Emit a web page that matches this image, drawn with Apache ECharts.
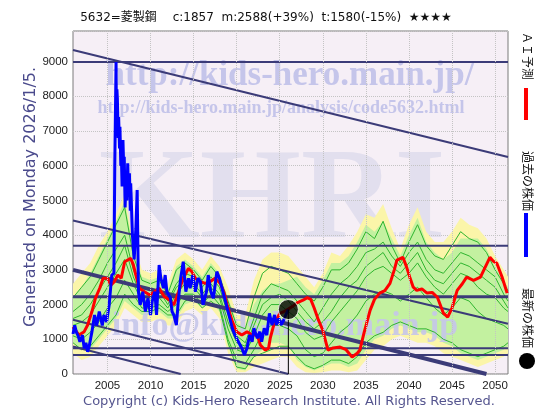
<!DOCTYPE html>
<html><head><meta charset="utf-8">
<script src="https://cdn.jsdelivr.net/npm/echarts@6/dist/echarts.min.js"></script>
<style>html,body{margin:0;padding:0;background:#fff}#c{width:560px;height:420px}</style>
</head><body><div id="c"></div>
<script>
// ---------- DATA ----------
const titleText = '5632=菱製鋼　 c:1857  m:2588(+39%)  t:1580(-15%)  ★★★★';
const yAxisNameText = 'Generated on Monday 2026/1/5.';
const copyrightText = 'Copyright (c) Kids-Hero Research Institute. All Rights Reserved.';
const legendTexts = ['ＡＩ予測', '過去の株価', '最新の株価'];
const xTickYears = [2005, 2010, 2015, 2020, 2025, 2030, 2035, 2040, 2045, 2050];

// past price (blue)
const blueYears = [2001.0,2001.2,2001.4,2001.6,2001.8,2002.1,2002.3,2002.5,2002.7,2002.9,2003.2,2003.5,2003.75,2004.05,2004.4,2004.6,2004.9,2005.2,2005.5,2005.75,2005.85,2006.0,2006.05,2006.1,2006.15,2006.25,2006.3,2006.4,2006.45,2006.55,2006.6,2006.7,2006.8,2006.9,2006.95,2007.05,2007.15,2007.25,2007.35,2007.45,2007.55,2007.65,2007.7,2007.9,2008.1,2008.3,2008.45,2008.6,2008.8,2009.1,2009.4,2009.7,2010.0,2010.2,2010.5,2010.7,2011.0,2011.2,2011.5,2011.7,2011.9,2012.3,2012.5,2012.7,2013.0,2013.25,2013.5,2013.8,2014.1,2014.4,2014.6,2014.9,2015.2,2015.5,2015.8,2016.1,2016.5,2016.7,2017.0,2017.3,2017.7,2018.0,2018.3,2018.7,2019.1,2019.5,2019.8,2020.2,2020.6,2020.9,2021.2,2021.5,2021.8,2022.0,2022.4,2022.7,2022.9,2023.2,2023.5,2023.8,2024.1,2024.4,2024.6,2024.9,2025.15,2025.45,2025.7,2026.0];
const blueValues = [1150,1400,1200,1100,930,1120,740,900,640,830,1220,1700,1400,1800,1400,1700,1500,1990,2850,2900,6000,8990,7000,8200,7940,6800,7400,6500,7120,6000,6450,5400,6740,5800,6260,4800,5590,5000,6070,5200,5780,4700,5490,4000,3300,4200,5300,2370,1990,2370,1800,2180,1700,2100,2370,1700,3140,2760,2470,2850,2370,2200,1800,1700,1411,2180,2760,3235,2370,2760,2470,2850,2370,2760,2660,1990,2370,2850,2370,2180,2950,2760,2470,2090,1700,1315,1120,930,740,550,740,1120,930,1315,1030,1220,930,1315,1120,1745,1411,1700,1411,1600,1411,1550,1700,1857];

// AI forecast (red)
const redYears = [2001.0,2001.7,2002.3,2002.7,2003.2,2003.6,2004.1,2004.5,2005.0,2005.4,2005.8,2006.2,2006.6,2007.0,2007.7,2008.0,2008.3,2008.7,2009.3,2009.9,2010.5,2011.0,2011.6,2012.2,2012.7,2013.25,2013.8,2014.4,2014.8,2015.2,2015.8,2016.35,2016.9,2017.5,2018.1,2018.5,2018.9,2019.5,2020.0,2020.6,2021.2,2021.8,2022.4,2022.75,2023.3,2023.7,2023.9,2024.3,2024.7,2025.0,2025.5,2026.0,2026.5,2027.0,2027.7,2028.2,2028.6,2029.0,2029.5,2030.0,2030.6,2031.2,2032.0,2032.7,2033.4,2034.0,2034.3,2034.8,2035.5,2036.0,2036.6,2037.2,2037.8,2038.3,2038.6,2039.3,2039.7,2040.1,2040.5,2040.9,2041.5,2042.1,2042.7,2043.3,2043.7,2044.0,2044.5,2045.0,2045.6,2046.2,2046.7,2047.5,2048.3,2048.9,2049.4,2049.8,2050.2,2050.8,2051.4];
const redValues = [1360,1120,1220,1410,1800,2180,2470,2760,2760,2560,2660,2850,2760,3235,3330,3150,2850,2470,2370,2275,2370,2470,2230,2130,1990,2370,2760,3040,2950,2760,2660,2610,2660,2760,2610,2370,1990,1510,1220,1120,1220,1120,1120,835,690,740,1030,1410,1600,1745,1800,1870,1950,2050,2126,2200,2150,1900,1550,1260,690,750,776,700,490,600,690,1200,1840,2150,2330,2400,2610,3000,3280,3360,3100,2790,2500,2410,2450,2330,2350,2210,1950,1750,1640,1900,2410,2600,2790,2700,2790,3100,3360,3250,3190,2800,2330];

// latest price
const latestYear = 2026.0;
const latestValue = 1857;

// scenario envelope / bands
const bandYears = [2001,2002,2003,2004,2005,2006,2007,2008,2009,2010,2011,2012,2013,2014,2015,2016,2017,2018,2019,2020,2021,2022,2023,2024,2025,2026,2027,2028,2029,2030,2031,2032,2033,2034,2035,2036,2037,2038,2039,2040,2041,2042,2043,2044,2045,2046,2047,2048,2049,2050,2051,2051.5];
const yellowUpper = [2600,2900,3200,3700,4100,4600,5200,3800,3000,2900,3000,2600,3300,3500,3300,3000,3400,3100,2500,1700,1700,2700,3300,3500,3500,3400,3100,2800,2500,2900,3500,3400,3700,4100,4600,4500,4900,4200,3600,4300,4800,4100,3800,3800,4100,4500,4300,4200,3900,3400,3000,2800];
const yellowLower = [600,400,500,800,1100,1400,1900,1700,1500,1500,1600,1400,1400,1800,1900,1700,1900,1600,600,50,50,200,300,400,500,500,200,50,30,50,100,100,50,100,400,700,800,1000,1100,1000,900,900,800,600,500,400,300,200,300,400,500,600];
const greenUpper = [2200,2500,2900,3400,3900,4400,5000,3600,2800,2700,2800,2400,3100,3300,3100,2800,3200,2900,2200,1500,1300,2000,2400,2600,2600,2700,2800,2500,2300,2700,3200,3200,3400,3800,4300,4100,4400,3900,3400,4000,4500,3800,3500,3300,3500,3900,3900,3900,3600,3100,2700,2500];
const greenLower = [900,700,700,1000,1300,1600,2100,1900,1700,1700,1800,1600,1600,2000,2100,1900,2100,1800,800,150,100,500,700,900,900,800,400,200,100,200,300,300,200,300,700,1000,1100,1300,1400,1300,1200,1200,1100,900,800,600,500,400,500,600,700,800];
const scenario1 = [2200,2500,2800,3300,3800,4300,4800,3400,2700,2600,2700,2300,3000,3200,3000,2700,3100,2800,2100,1400,1300,2200,2900,3100,3000,2900,2600,2300,2100,2500,3000,3000,3200,3600,4100,3900,4400,3700,3200,3800,4300,3700,3400,3300,3700,4100,3900,3800,3500,3000,2600,2400];
const scenario2 = [1800,2000,2300,2700,3200,3600,4000,3000,2400,2300,2500,2100,2600,2900,2800,2500,2800,2500,1700,1100,900,1600,2300,2600,2500,2400,2100,1800,1500,1900,2300,2600,2800,3100,3500,3600,3800,3400,3100,3500,3800,3300,3000,2900,3200,3500,3400,3200,3000,2800,2300,2100];
const scenario3 = [1600,1700,2000,2400,2800,3200,3700,2800,2200,2200,2400,2000,2500,2700,2600,2300,2600,2300,1500,900,800,1400,2000,2200,2300,2100,1800,1500,1300,1500,1800,2200,2500,2700,3100,3300,3500,3100,2900,3200,3500,3000,2700,2600,2900,3200,3100,2900,2700,2500,2100,1900];
const scenario4 = [1400,1500,1700,2100,2500,2900,3300,2600,2100,2100,2200,1900,2300,2600,2500,2200,2500,2200,1300,700,600,1100,1700,2000,2000,1800,1600,1200,1000,1100,1500,1800,2100,2400,2800,3000,3100,2900,2700,2900,3200,2800,2500,2300,2600,2900,2800,2500,2300,2200,1900,1800];
const scenario5 = [1100,1000,1200,1500,1900,2200,2700,2300,1900,1900,2000,1800,2000,2300,2300,2000,2300,2000,1000,400,300,700,1200,1400,1400,1300,1100,700,500,600,900,1200,1400,1700,2100,2300,2400,2300,2100,2300,2500,2200,1900,1700,1900,2200,2100,1800,1600,1500,1400,1300];
const scenario6 = [900,700,800,1100,1400,1700,2300,2000,1800,1800,1900,1700,1700,2100,2200,1900,2100,1900,900,200,150,500,600,700,800,800,500,250,150,250,400,400,300,500,900,1100,1200,1400,1500,1400,1300,1300,1200,1000,900,700,600,500,600,700,800,900];
const scenarios = [scenario1, scenario2, scenario3, scenario4, scenario5, scenario6];

// support / resistance levels
const levelValues = [8990, 3695, 2226, 740, 547];
// trend channel lines
const trendStartYears = [2001, 2001, 2001, 2001, 2001];
const trendStartValues = [9330, 4420, 3000, 1560, 790];
const trendEndYears = [2051.5, 2051.5, 2049, 2026, 2013.5];
const trendEndValues = [6250, 1450, 0, 0, 0];

// ---------- CHART ----------
const X_MIN = 2001, X_MAX = 2051.5, Y_MAX = 9880;
const pairs = (xs, ys) => xs.map((x, i) => [x, ys[i]]);
const NAVY = '#3b3b78';

function bandSeries(upper, lower, color) {
  return {
    type: 'custom', silent: true, clip: true, z: 1,
    data: pairs(bandYears, upper),
    encode: { x: 0, y: 1 },
    renderItem: function (params, api) {
      if (params.dataIndex !== 0) return null;
      const pts = [];
      for (let i = 0; i < bandYears.length; i++) pts.push(api.coord([bandYears[i], upper[i]]));
      for (let i = bandYears.length - 1; i >= 0; i--) pts.push(api.coord([bandYears[i], lower[i]]));
      return { type: 'polygon', shape: { points: pts }, style: { fill: color, stroke: null } };
    }
  };
}

const series = [];
series.push({
  type: 'line', data: [], silent: true, z: 0,
  markLine: {
    silent: true, symbol: 'none', label: { show: false },
    lineStyle: { color: '#c4c4c4', type: 'dotted', width: 1 },
    data: xTickYears.map(v => ({ xAxis: v }))
  }
});
series.push(bandSeries(yellowUpper, yellowLower, '#fbf5a9'));
series.push(bandSeries(greenUpper, greenLower, '#c3f1a0'));
scenarios.forEach(s => series.push({ type: 'line', symbol: 'none', silent: true, z: 3,
  lineStyle: { color: '#2fb52f', width: 1 }, data: pairs(bandYears, s) }));
const levelWidths = [2, 2, 3, 2, 2];
levelValues.forEach((v, i) => series.push({ type: 'line', symbol: 'none', silent: true, z: 3,
  lineStyle: { color: NAVY, width: levelWidths[i] }, data: [[X_MIN, v], [X_MAX, v]] }));
const trendWidths = [2, 2, 4, 2, 2];
trendStartYears.forEach((y0, i) => series.push({ type: 'line', symbol: 'none', silent: true, z: 3,
  lineStyle: { color: NAVY, width: trendWidths[i] },
  data: [[y0, trendStartValues[i]], [trendEndYears[i], trendEndValues[i]]] }));
series.push({ type: 'line', symbol: 'none', silent: true, z: 3, lineStyle: { color: '#ff0000', width: 3 }, data: pairs(redYears, redValues) });
series.push({ type: 'line', symbol: 'none', silent: true, z: 3, lineStyle: { color: '#0000ff', width: 3 }, data: pairs(blueYears, blueValues) });
series.push({ type: 'line', symbol: 'none', silent: true, z: 3, lineStyle: { color: '#000', width: 1 }, data: [[latestYear, 0], [latestYear, latestValue]] });
series.push({ type: 'scatter', symbol: 'circle', symbolSize: 20, silent: true, z: 5,
  itemStyle: { color: '#000', borderColor: '#fff', borderWidth: 1 }, data: [[latestYear, latestValue]] });

const wm = '#c5c5ea';
const labelFont = { fontSize: 11.5, color: '#222', fontFamily: 'Liberation Sans' };
const option = {
  animation: false,
  backgroundColor: '#ffffff',
  grid: { left: 73, right: 52, top: 31, bottom: 46, show: true, backgroundColor: '#f6eff6', borderColor: '#7a7a7a', borderWidth: 1 },
  xAxis: {
    type: 'value', min: X_MIN, max: X_MAX,
    axisLine: { show: false }, axisTick: { show: false }, splitLine: { show: false },
    axisLabel: Object.assign({ customValues: xTickYears, formatter: v => String(v), margin: 6 }, labelFont)
  },
  yAxis: {
    type: 'value', min: 0, max: Y_MAX, interval: 1000,
    axisLine: { show: false }, axisTick: { show: false },
    splitLine: { show: true, lineStyle: { color: '#c4c4c4', type: 'dotted', width: 1 } },
    axisLabel: Object.assign({ showMaxLabel: false, formatter: v => String(v), margin: 5 }, labelFont)
  },
  graphic: [
    { type: 'text', x: 290, y: 76, z: 0, silent: true, style: { text: 'http://kids-hero.main.jp/', fill: wm, font: 'bold 35px "Liberation Serif", serif', align: 'center', verticalAlign: 'middle' } },
    { type: 'text', x: 281, y: 108, z: 0, silent: true, style: { text: 'http://kids-hero.main.jp/analysis/code5632.html', fill: wm, font: 'bold 18px "Liberation Serif", serif', align: 'center', verticalAlign: 'middle' } },
    { type: 'text', x: 272, y: 203, z: 0, silent: true, style: { text: 'KHRI', fill: '#e2dfee', font: 'bold 130px "Liberation Serif", serif', align: 'center', verticalAlign: 'middle' } },
    { type: 'text', x: 285, y: 326, z: 2, silent: true, style: { text: 'info@kids-hero.main.jp', fill: wm, opacity: 0.9, font: 'bold 34px "Liberation Serif", serif', align: 'center', verticalAlign: 'middle' } },
    { type: 'text', x: 266, y: 18, silent: true, style: { text: titleText, fill: '#111', font: '12px "DejaVu Sans", "Noto Sans CJK JP", sans-serif', align: 'center', verticalAlign: 'middle' } },
    { type: 'text', x: 31, y: 197, rotation: Math.PI / 2, silent: true, style: { text: yAxisNameText, fill: '#4a4a8c', font: '16px "DejaVu Sans", sans-serif', align: 'center', verticalAlign: 'middle' } },
    { type: 'text', x: 289, y: 402, silent: true, style: { text: copyrightText, fill: '#55558f', font: '13px "DejaVu Sans", sans-serif', align: 'center', verticalAlign: 'middle' } },
    { type: 'text', x: 528, y: 56, rotation: -Math.PI / 2, silent: true, style: { text: legendTexts[0], fill: '#111', font: '12px "Noto Sans CJK JP", sans-serif', align: 'center', verticalAlign: 'middle' } },
    { type: 'rect', silent: true, shape: { x: 524, y: 88, width: 4, height: 32 }, style: { fill: '#ff0000' } },
    { type: 'text', x: 528, y: 181, rotation: -Math.PI / 2, silent: true, style: { text: legendTexts[1], fill: '#111', font: '12px "Noto Sans CJK JP", sans-serif', align: 'center', verticalAlign: 'middle' } },
    { type: 'rect', silent: true, shape: { x: 524, y: 213, width: 4, height: 44 }, style: { fill: '#0000ff' } },
    { type: 'text', x: 528, y: 318, rotation: -Math.PI / 2, silent: true, style: { text: legendTexts[2], fill: '#111', font: '12px "Noto Sans CJK JP", sans-serif', align: 'center', verticalAlign: 'middle' } },
    { type: 'circle', silent: true, shape: { cx: 527, cy: 361, r: 8 }, style: { fill: '#000' } }
  ],
  series: series
};
const chart = echarts.init(document.getElementById('c'), null, { renderer: 'canvas' });
chart.setOption(option);
</script>
</body></html>
